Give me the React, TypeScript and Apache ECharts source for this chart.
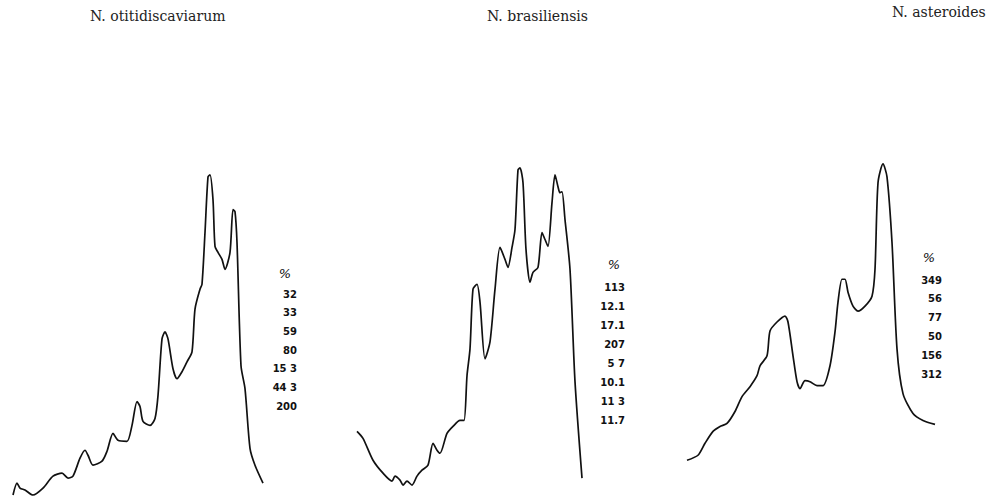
import React, { useEffect, useRef } from "react";
import * as echarts from "echarts";

// Panel titles
const titles = ["N. otitidiscaviarum", "N. brasiliensis", "N. asteroides"];

// Trace values: [elution position, absorbance] (arbitrary units)
const otitidiscaviarum: number[][] = [
  [3, 3], [7, 15], [10, 10], [15, 8], [23, 3], [33, 10], [43, 22], [52, 25], [58, 20], [63, 22],
  [70, 40], [75, 48], [78, 43], [83, 33], [92, 37], [97, 47], [103, 65], [108, 58], [117, 57],
  [122, 73], [127, 97], [130, 92], [133, 77], [140, 73], [145, 80], [148, 103], [152, 160],
  [155, 167], [158, 160], [163, 130], [167, 120], [172, 127], [177, 137], [182, 147], [185, 190],
  [190, 210], [192, 215], [195, 267], [198, 323], [200, 325], [203, 300], [205, 253], [208, 247],
  [212, 240], [215, 230], [220, 247], [223, 290], [225, 288], [227, 257], [231, 133], [235, 110],
  [240, 50], [245, 33], [253, 15],
];

const brasiliensis: number[][] = [
  [7, 67], [13, 60], [23, 38], [33, 25], [42, 17], [45, 22], [50, 18], [53, 13], [57, 17], [62, 13],
  [67, 22], [72, 28], [78, 33], [83, 55], [87, 48], [90, 45], [97, 65], [103, 72], [110, 78],
  [114, 78], [117, 123], [120, 150], [123, 210], [127, 215], [130, 197], [135, 140], [140, 157],
  [145, 210], [150, 252], [155, 240], [158, 232], [162, 252], [165, 270], [168, 330], [170, 332],
  [173, 317], [176, 250], [180, 217], [183, 227], [188, 232], [192, 267], [195, 260], [198, 253],
  [202, 297], [205, 325], [208, 313], [210, 307], [212, 308], [215, 280], [220, 230], [225, 117],
  [232, 20],
];

const asteroides: number[][] = [
  [7, 38], [18, 43], [25, 55], [33, 67], [40, 72], [47, 75], [55, 87], [62, 102], [70, 112],
  [77, 123], [80, 133], [87, 143], [90, 168], [97, 177], [105, 183], [108, 177], [113, 143],
  [117, 117], [120, 110], [125, 118], [130, 117], [137, 113], [143, 113], [150, 133], [155, 167],
  [158, 197], [162, 220], [165, 220], [168, 207], [173, 193], [178, 188], [185, 193], [192, 203],
  [195, 230], [198, 317], [203, 336], [207, 323], [212, 257], [217, 150], [223, 105], [233, 85],
  [243, 78], [255, 74],
];

// Composition tables (% labels) beside each trace
const pctOtitidiscaviarum = ["32", "33", "59", "80", "15 3", "44 3", "200"];
const pctBrasiliensis = ["113", "12.1", "17.1", "207", "5 7", "10.1", "11 3", "11.7"];
const pctAsteroides = ["349", "56", "77", "50", "156", "312"];

const panels = [
  { data: otitidiscaviarum, left: 10, width: 260, pct: pctOtitidiscaviarum, pctX: 297, pctY: 294, step: 18.7, sym: [285, 273], title: [90, 9] },
  { data: brasiliensis, left: 350, width: 240, pct: pctBrasiliensis, pctX: 625, pctY: 287, step: 19.1, sym: [614, 264], title: [487, 9] },
  { data: asteroides, left: 680, width: 260, pct: pctAsteroides, pctX: 942, pctY: 280, step: 18.8, sym: [929, 257], title: [892, 5] },
];

export default function App() {
  const ref = useRef<HTMLDivElement>(null);
  useEffect(() => {
    if (!ref.current) return;
    const chart = echarts.init(ref.current, undefined, { renderer: "svg" });
    const numFont = "'DejaVu Sans', 'Liberation Sans', sans-serif";
    const graphic: any[] = [];
    panels.forEach((p, i) => {
      graphic.push({
        type: "text",
        x: p.sym[0],
        y: p.sym[1],
        style: {
          text: "%",
          font: `italic 13px ${numFont}`,
          fill: "#111",
          align: "center",
          verticalAlign: "middle",
        },
      });
      p.pct.forEach((t, k) => {
        graphic.push({
          type: "text",
          x: p.pctX,
          y: p.pctY + k * p.step,
          style: {
            text: t,
            font: `bold 10px ${numFont}`,
            fill: "#111",
            align: "right",
            verticalAlign: "middle",
          },
        });
      });
      graphic.push({
        type: "text",
        x: p.title[0],
        y: p.title[1],
        style: {
          text: titles[i],
          font: "14px 'DejaVu Serif', 'Liberation Serif', serif",
          fill: "#222",
          align: "left",
          verticalAlign: "top",
        },
      });
    });

    chart.setOption({
      animation: false,
      backgroundColor: "#ffffff",
      grid: panels.map((p) => ({ left: p.left, top: 150, width: p.width, height: 350 })),
      xAxis: panels.map((p, i) => ({
        type: "value",
        gridIndex: i,
        min: 0,
        max: p.width,
        show: false,
      })),
      yAxis: panels.map((_p, i) => ({
        type: "value",
        gridIndex: i,
        min: 0,
        max: 350,
        show: false,
      })),
      series: panels.map((p, i) => ({
        type: "line",
        xAxisIndex: i,
        yAxisIndex: i,
        data: p.data,
        smooth: 0.25,
        showSymbol: false,
        symbol: "none",
        lineStyle: { color: "#111", width: 1.7 },
      })),
      graphic,
    });
    return () => chart.dispose();
  }, []);
  return (
    <div
      ref={ref}
      style={{ position: "fixed", left: 0, top: 0, width: 1000, height: 498, background: "#fff" }}
    />
  );
}
